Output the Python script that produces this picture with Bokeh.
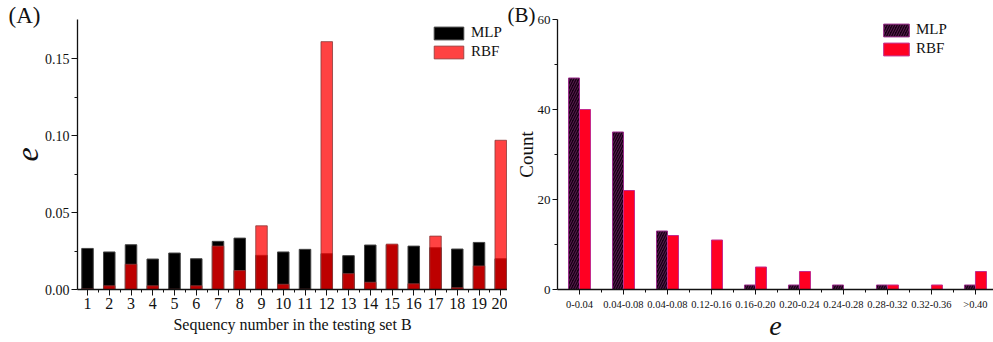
from bokeh.plotting import figure
from bokeh.layouts import row
from bokeh.models import (Range1d, FixedTicker, NumeralTickFormatter, ColumnDataSource)
from bokeh.embed import file_html
from bokeh.resources import INLINE

# ---- Panel A: relative error per sample in testing set B ----
seq = list(range(1, 21))
mlp_err = [0.0267, 0.0244, 0.0291, 0.0198, 0.0237, 0.0200, 0.0313, 0.0334, 0.0222, 0.0244,
           0.0261, 0.0233, 0.0220, 0.0289, 0.0290, 0.0282, 0.0272, 0.0263, 0.0306, 0.0200]
rbf_err = [0.0004, 0.0024, 0.0164, 0.0024, 0.0002, 0.0024, 0.0282, 0.0123, 0.0414, 0.0034,
           0.0002, 0.1611, 0.0103, 0.0047, 0.0295, 0.0037, 0.0347, 0.0011, 0.0153, 0.0970]
a_yticks = [0.0, 0.05, 0.10, 0.15]

# ---- Panel B: histogram of errors ----
bins = ["0-0.04", "0.04-0.08", "0.04-0.08", "0.12-0.16", "0.16-0.20",
        "0.20-0.24", "0.24-0.28", "0.28-0.32", "0.32-0.36", ">0.40"]
mlp_count = [47, 35, 13, 0, 1, 1, 1, 1, 0, 1]
rbf_count = [40, 22, 12, 11, 5, 4, 0, 1, 1, 4]
b_yticks = [0, 20, 40, 60]

SERIF = "Liberation Serif"


def style_axes(p):
    for ax in (p.xaxis[0], p.yaxis[0]):
        ax.axis_line_width = 1.3
        ax.axis_line_color = "#111111"
        ax.major_tick_line_color = "#111111"
        ax.minor_tick_line_color = "#111111"
        ax.major_tick_in = 0
        ax.major_tick_out = 6
        ax.minor_tick_in = 0
        ax.minor_tick_out = 3
        ax.major_label_text_font = SERIF
        ax.major_label_text_color = "#111111"
        ax.axis_label_text_font = SERIF
        ax.axis_label_text_color = "#111111"
        ax.major_label_standoff = 2
        ax.axis_label_standoff = 4


def panel_tag(p, text, size, offset, standoff):
    # small "(A)"/"(B)" tag drawn in the top margin, left of the y axis
    t = p.title
    t.text = text
    t.align = "left"
    t.vertical_align = "bottom"
    t.offset = offset
    t.standoff = standoff
    t.text_font = SERIF
    t.text_font_size = size
    t.text_font_style = "normal"
    t.text_color = "#111111"


def style_legend(lg, loc, glyph_w):
    lg.location = loc
    lg.background_fill_alpha = 0
    lg.border_line_color = None
    lg.padding = 0
    lg.margin = 0
    lg.spacing = 2
    lg.glyph_width = glyph_w
    lg.glyph_height = 16
    lg.label_height = 16
    lg.label_standoff = 4
    lg.label_text_font = SERIF
    lg.label_text_font_size = "15px"
    lg.label_text_color = "#111111"


# Panel A
pa = figure(width=507, height=342, output_backend="svg", toolbar_location=None,
            x_range=Range1d(0.540, 20.31), y_range=Range1d(0, 0.1755),
            min_border_left=77, min_border_right=0, min_border_top=17, min_border_bottom=53)
pa.outline_line_color = None
pa.grid.visible = False

src_a = ColumnDataSource(dict(x=seq, mlp=mlp_err, rbf=rbf_err))
pa.vbar(x="x", top="mlp", width=0.53, source=src_a, fill_color="black",
        line_color="#444444", line_width=1, legend_label="MLP")
pa.vbar(x="x", top="rbf", width=0.53, source=src_a, fill_color="#ff0000", fill_alpha=0.74,
        line_color="#8a3a3a", line_alpha=0.8, line_width=1, legend_label="RBF")

pa.xaxis.ticker = FixedTicker(ticks=seq, minor_ticks=[s + 0.5 for s in seq[:-1]])
pa.yaxis.ticker = FixedTicker(ticks=a_yticks, minor_ticks=[0.025, 0.075, 0.125])
pa.yaxis.formatter = NumeralTickFormatter(format="0.00")
style_axes(pa)
pa.xaxis.major_label_text_font_size = "16px"
pa.yaxis.major_label_text_font_size = "14px"
pa.xaxis.axis_label = "Sequency number in the testing set B"
pa.xaxis.axis_label_text_font_size = "16px"
pa.xaxis.axis_label_text_font_style = "normal"
pa.yaxis.axis_label = "e"
pa.yaxis.axis_label_text_font_size = "32px"
pa.yaxis.axis_label_text_font_style = "italic"
style_legend(pa.legend[0], (353, 229), 37)
panel_tag(pa, "(A)", "23px", -69, -17)

# Panel B
pb = figure(width=486, height=342, output_backend="svg", toolbar_location=None,
            x_range=Range1d(-0.5, 9.41), y_range=Range1d(0, 60),
            min_border_left=50, min_border_right=0, min_border_top=19, min_border_bottom=52)
pb.outline_line_color = None
pb.grid.visible = False

idx = list(range(len(bins)))
src_b = ColumnDataSource(dict(xm=[i - 0.125 for i in idx], xr=[i + 0.125 for i in idx],
                              mlp=mlp_count, rbf=rbf_count))
pb.vbar(x="xm", top="mlp", width=0.25, source=src_b, fill_color="#160012",
        hatch_pattern="/", hatch_color="#5e1d55", hatch_scale=5, hatch_weight=1,
        line_color="#9a2c8a", line_width=1, legend_label="MLP")
pb.vbar(x="xr", top="rbf", width=0.25, source=src_b, fill_color="#ff0022",
        line_color="#c42a8c", line_width=1, legend_label="RBF")

pb.xaxis.ticker = FixedTicker(ticks=idx, minor_ticks=[i + 0.5 for i in idx])
pb.xaxis.major_label_overrides = {i: b for i, b in zip(idx, bins)}
pb.yaxis.ticker = FixedTicker(ticks=b_yticks, minor_ticks=[10, 30, 50])
style_axes(pb)
pb.xaxis.major_label_text_font_size = "10.5px"
pb.yaxis.major_label_text_font_size = "13px"
pb.xaxis.major_tick_out = 5
pb.yaxis.major_tick_out = 5
pb.xaxis.major_label_standoff = 4
pb.xaxis.axis_label = "e"
pb.xaxis.axis_label_text_font_size = "28px"
pb.xaxis.axis_label_text_font_style = "italic"
pb.yaxis.axis_label = "Count"
pb.yaxis.axis_label_text_font_size = "19px"
pb.yaxis.axis_label_text_font_style = "normal"
pb.yaxis.axis_label_standoff = -2
style_legend(pb.legend[0], (323, 232), 32)
panel_tag(pb, "(B)", "21px", -50, -14)

layout = row(pa, pb, spacing=0)
open("out.html", "w").write(file_html(layout, INLINE))
